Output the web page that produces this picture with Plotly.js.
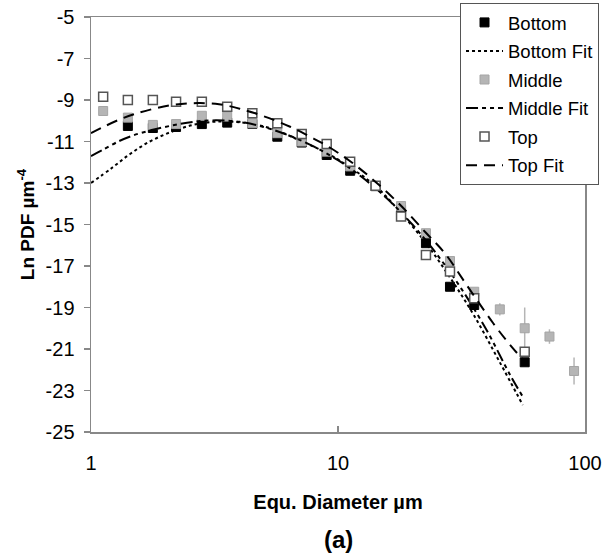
<!DOCTYPE html>
<html>
<head>
<meta charset="utf-8">
<script src="https://cdn.plot.ly/plotly-3.0.1.min.js"></script>
<style>html,body{margin:0;padding:0;background:#fff;}#chart{width:605px;height:557px;}</style>
</head>
<body>
<div id="chart"></div>
<script>
// ---- data ----
const bottomX = [1.41, 1.78, 2.21, 2.81, 3.56, 4.5, 5.68, 7.13, 9.0, 11.2, 14.2, 18.0, 22.7, 28.4, 35.6, 57.0];
const bottomY = [-10.25, -10.35, -10.3, -10.16, -10.09, -10.15, -10.77, -11.05, -11.65, -12.41, -13.15, -14.3, -15.9, -18.0, -18.88, -21.64];

const middleX = [1.12, 1.41, 1.78, 2.21, 2.81, 3.56, 4.5, 5.68, 7.13, 9.0, 11.2, 14.2, 18.0, 22.7, 28.4, 35.6, 45.2, 57.0, 71.8, 90.3];
const middleY = [-9.53, -9.85, -10.2, -10.16, -9.76, -9.8, -10.12, -10.6, -11.0, -11.49, -12.2, -13.15, -14.11, -15.42, -16.76, -18.24, -19.09, -20.0, -20.4, -22.06];
const middleErr = [0, 0, 0, 0, 0, 0, 0, 0, 0, 0, 0, 0, 0, 0, 0, 0, 0.3, 1.0, 0.35, 0.65];

const topX = [1.12, 1.41, 1.78, 2.21, 2.81, 3.56, 4.5, 5.68, 7.13, 9.0, 11.2, 14.2, 18.0, 22.7, 28.4, 35.6, 57.0];
const topY = [-8.84, -9.0, -9.0, -9.08, -9.08, -9.32, -9.64, -10.12, -10.64, -11.12, -11.97, -13.13, -14.62, -16.47, -17.27, -18.56, -21.13];

const bottomFitX = [1.0, 1.21, 1.44, 1.73, 2.12, 2.59, 3.13, 3.76, 4.5, 5.6, 7.0, 9.0, 11.2, 14.2, 18, 22.7, 28.4, 35.6, 45, 56];
const bottomFitY = [-13.0, -12.29, -11.6, -11.0, -10.53, -10.2, -10.05, -10.05, -10.15, -10.45, -10.95, -11.55, -12.25, -13.15, -14.45, -15.9, -17.55, -19.4, -21.6, -23.7];

const middleFitX = [1.0, 1.11, 1.3, 1.47, 1.76, 2.15, 2.6, 3.2, 4.0, 5.0, 6.3, 8.0, 10, 12.6, 15.8, 20, 25, 31.6, 40, 50, 56];
const middleFitY = [-11.7, -11.42, -10.98, -10.72, -10.45, -10.22, -10.05, -9.98, -10.05, -10.3, -10.7, -11.25, -11.9, -12.75, -13.75, -15.0, -16.4, -18.1, -20.1, -22.3, -23.3];

const topFitX = [1.0, 1.1, 1.3, 1.5, 1.8, 2.2, 2.7, 3.3, 4.0, 5.0, 6.4, 7.7, 9.0, 11.2, 14.2, 18.0, 22.7, 27.1, 33.2, 42.5, 50.5, 56];
const topFitY = [-10.6, -10.35, -9.95, -9.68, -9.42, -9.22, -9.15, -9.2, -9.42, -9.78, -10.29, -10.77, -11.2, -11.95, -12.95, -14.1, -15.4, -16.39, -17.92, -19.76, -20.9, -21.5];

const xTickVals = [1, 10, 100];
const xTickText = ['1', '10', '100'];
const yTickVals = [-5, -7, -9, -11, -13, -15, -17, -19, -21, -23, -25];
const yTickText = ['-5', '-7', '-9', '-11', '-13', '-15', '-17', '-19', '-21', '-23', '-25'];

// ---- chart ----
const FONT = 'Liberation Sans, Arial, sans-serif';
const lineW = 2;
const traces = [
  {x: bottomX, y: bottomY, name: 'Bottom', mode: 'markers', legendgroup: 'a',
   marker: {symbol: 'square', size: 9, color: '#000', line: {color: '#000', width: 1}}},
  {x: bottomFitX, y: bottomFitY, name: 'Bottom Fit', mode: 'lines', legendgroup: 'b',
   line: {color: '#000', width: lineW, dash: 'dot', shape: 'spline'}},
  {x: middleX, y: middleY, name: 'Middle', mode: 'markers', legendgroup: 'c',
   error_y: {type: 'data', array: middleErr, visible: true, color: '#b5b5b5', thickness: 1.5, width: 0},
   marker: {symbol: 'square', size: 9, color: '#b5b5b5', line: {color: '#a5a5a5', width: 1}}},
  {x: middleFitX, y: middleFitY, name: 'Middle Fit', mode: 'lines', legendgroup: 'd',
   line: {color: '#000', width: lineW, dash: '12px,4px,4px,4px,4px,4px', shape: 'spline'}},
  {x: topX, y: topY, name: 'Top', mode: 'markers', legendgroup: 'e',
   marker: {symbol: 'square', size: 9, color: '#fff', line: {color: '#555', width: 1.5}}},
  {x: topFitX, y: topFitY, name: 'Top Fit', mode: 'lines', legendgroup: 'f',
   line: {color: '#000', width: lineW, dash: '11px,7px', shape: 'spline'}}
];

const layout = {
  width: 605, height: 557,
  margin: {l: 91, r: 20, t: 17, b: 125, autoexpand: false},
  paper_bgcolor: '#fff', plot_bgcolor: '#fff',
  font: {family: FONT, size: 20, color: '#000'},
  showlegend: true,
  legend: {
    x: 0.747, xanchor: 'left', y: 1.034, yanchor: 'top',
    bgcolor: '#fff', bordercolor: '#555', borderwidth: 1,
    font: {family: FONT, size: 18.5, color: '#000'},
    traceorder: 'grouped', tracegroupgap: 1.5, itemwidth: 37
  },
  xaxis: {
    type: 'log', range: [0, 2],
    tickvals: xTickVals, ticktext: xTickText,
    ticks: 'inside', ticklen: 6, tickcolor: '#888', tickwidth: 1.5,
    showline: true, linecolor: '#888', linewidth: 1.5, mirror: true,
    showgrid: false, zeroline: false,
    ticklabelstandoff: 12,
    tickfont: {family: FONT, size: 20, color: '#000'},
    title: {text: '<b>Equ. Diameter µm</b>', font: {family: FONT, size: 20, color: '#000'}, standoff: 22}
  },
  yaxis: {
    range: [-25, -5],
    tickvals: yTickVals, ticktext: yTickText,
    ticks: 'outside', ticklen: 6, tickcolor: '#888', tickwidth: 1.5,
    showline: true, linecolor: '#888', linewidth: 1.5, mirror: true,
    showgrid: false, zeroline: false,
    ticklabelstandoff: 5,
    tickfont: {family: FONT, size: 20, color: '#000'},
    title: {text: '<b>Ln PDF µm<sup>-4</sup></b>', font: {family: FONT, size: 19, color: '#000'}, standoff: 6}
  },
  annotations: [
    {text: '<b>(a)</b>', xref: 'paper', yref: 'paper', x: 0.5, y: -0.26,
     xanchor: 'center', yanchor: 'middle', showarrow: false,
     font: {family: FONT, size: 24, color: '#000'}}
  ]
};

Plotly.newPlot('chart', traces, layout, {displayModeBar: false, staticPlot: true});
</script>
</body>
</html>
